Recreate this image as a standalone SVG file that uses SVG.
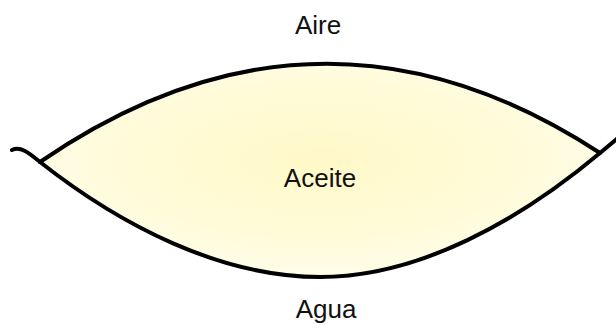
<svg xmlns="http://www.w3.org/2000/svg" width="616" height="330" viewBox="0 0 616 330">
  <style>
    .label { font-family: "Liberation Sans", Arial, sans-serif; font-size: 26px; fill: #111; text-anchor: middle; }
    .edge { fill: none; stroke: #000; stroke-width: 4; stroke-linecap: round; stroke-linejoin: round; }
  </style>
  <defs>
    <radialGradient id="oilFill" cx="0.5" cy="0.45" r="0.6">
      <stop offset="0" stop-color="#FFF9C8"/>
      <stop offset="0.6" stop-color="#FFFBD9"/>
      <stop offset="1" stop-color="#FFFDEE"/>
    </radialGradient>
  </defs>
  <rect width="616" height="330" fill="#fff"/>

  <!-- oil lens between air and water -->
  <g id="aceite">
    <path d="M40,162 Q320,-30 600,153 C520,220 420,277 320,277 C220,277 120,225 40,162 Z" fill="url(#oilFill)"/>
    <text class="label" x="320" y="187">Aceite</text>
  </g>

  <g id="aire">
    <text class="label" x="318" y="34">Aire</text>
  </g>

  <g id="agua">
    <text class="label" x="326" y="318">Agua</text>
  </g>

  <!-- interfaces -->
  <g id="connectors">
    <path class="edge" d="M40,162 Q320,-30 600,153"/>
    <path class="edge" d="M12,150 C20,146 28,152 40,162 C120,225 220,277 320,277 C420,277 520,220 600,153 L618,138"/>
  </g>
</svg>
